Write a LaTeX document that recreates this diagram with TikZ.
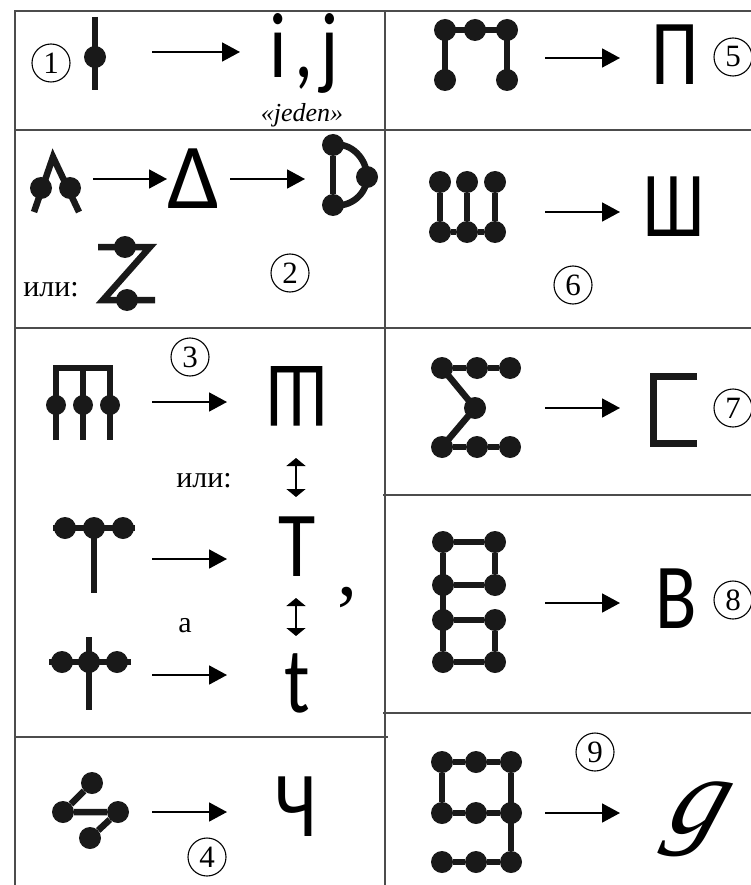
\documentclass[tikz,border=0pt]{standalone}
\usepackage{fontspec}
\setmainfont{Liberation Serif}
\newfontfamily\letterfont{Carlito}
\usetikzlibrary{arrows.meta, positioning}

\begin{document}
\begin{tikzpicture}[
    x=1pt, y=-1pt,
    grid/.style={draw=black!70, line width=1.4pt},
    bar/.style={line width=6.5pt, draw=black!90, line join=miter},
    dot/.style={circle, fill=black!90, minimum size=22pt, inner sep=0pt},
    arrow/.style={-{Triangle[length=18pt, width=19pt]}, line width=1.8pt},
    updown/.style={{Triangle[length=8pt, width=19pt]}-{Triangle[length=8pt, width=19pt]}, line width=1.8pt},
    letter/.style={font=\letterfont\fontsize{93}{93}\selectfont, inner sep=0pt, xscale=0.82, transform shape},
    num/.style={circle, draw, line width=1.1pt, minimum size=38pt, inner sep=0pt, font=\fontsize{31}{31}\selectfont},
    note/.style={font=\fontsize{30}{30}\selectfont, inner sep=0pt}
]
\useasboundingbox (0,0) rectangle (751,885);

% Table
\draw [grid] (15,885) -- (15,11) -- (751,11);
\draw [grid] (385,11) -- (385,885);
\foreach \y in {130,328,737} \draw [grid] (15,\y) -- (388,\y);
\foreach \y in {130,328,495,713} \draw [grid] (383,\y) -- (751,\y);

% Row 1
\node (n1) [num] at (51,63) {1};
\coordinate (s1top) at (95,17);
\coordinate (s1bot) at (95,90);
\draw [bar] (s1top) -- (s1bot);
\node (s1) [dot] at (95,57) {};
\coordinate (a1s) at (152,52);
\coordinate (a1e) at (240,52);
\draw [arrow] (a1s) -- (a1e);
\node (ij) [letter, anchor=base] at (304,78) {i\hspace{9pt},\hspace{9pt}j};
\node (jeden) [note, font=\itshape\fontsize{26}{26}\selectfont] at (302,115) {«jeden»};

% Row 2
\coordinate (lamL) at (34,212);
\coordinate (lamT) at (53,157);
\coordinate (lamR) at (79,212);
\draw [bar] (lamL) -- (lamT) -- (lamR);
\node (lam1) [dot] at (41,188) {};
\node (lam2) [dot] at (70,188) {};
\coordinate (a2s) at (93,179);
\coordinate (a2e) at (167,179);
\draw [arrow] (a2s) -- (a2e);
\node (delta) [letter, xscale=1.22] at (194,179) {Δ};
\coordinate (a3s) at (230,179);
\coordinate (a3e) at (305,179);
\draw [arrow] (a3s) -- (a3e);
\node (dT) [dot] at (333,145) {};
\node (dB) [dot] at (333,205) {};
\node (dR) [dot] at (367,177) {};
\draw [bar] (dT) -- (dB);
\draw [bar] (dT.center) to[out=10, in=90] (dR.center) to[out=-90, in=-10] (dB.center);
\node (ili1) [note, anchor=base] at (51,296) {или:};
\coordinate (zTL) at (98,247);
\coordinate (zTR) at (150,247);
\coordinate (zBL) at (103,300);
\coordinate (zBR) at (155,300);
\draw [bar] (zTL) -- (zTR) -- (zBL) -- (zBR);
\node (z1) [dot] at (125,247) {};
\node (z2) [dot] at (127,300) {};
\node (n2) [num] at (290,273) {2};

% Row 3
\node (n3) [num] at (190,357) {3};
\coordinate (m1b) at (56,440);
\coordinate (m1t) at (56,368);
\coordinate (m2b) at (83,440);
\coordinate (m2t) at (83,368);
\coordinate (m3b) at (110,440);
\coordinate (m3t) at (110,368);
\draw [bar] (m1b) -- (m1t) -- (m3t) -- (m3b);
\draw [bar] (m2t) -- (m2b);
\node (m1) [dot, minimum size=20pt] at (56,405) {};
\node (m2) [dot, minimum size=20pt] at (83,405) {};
\node (m3) [dot, minimum size=20pt] at (110,405) {};
\coordinate (a4s) at (152,402);
\coordinate (a4e) at (227,402);
\draw [arrow] (a4s) -- (a4e);
\node (shinv) [letter, xscale=0.92, rotate=180] at (297,396) {Ш};
\node (ili2) [note, anchor=base] at (204,487) {или:};
\coordinate (ud1t) at (296,458);
\coordinate (ud1b) at (296,497);
\draw [updown] (ud1t) -- (ud1b);

\coordinate (tL) at (53,528);
\coordinate (tR) at (135,528);
\coordinate (tS) at (94,593);
\draw [bar] (tL) -- (tR);
\node (t1) [dot] at (65,528) {};
\node (t2) [dot] at (94,528) {};
\node (t3) [dot] at (123,528) {};
\draw [bar] (t2.center) -- (tS);
\coordinate (a5s) at (152,559);
\coordinate (a5e) at (227,559);
\draw [arrow] (a5s) -- (a5e);
\node (bigT) [letter] at (297,547) {Т};
\node (comma) [anchor=base, inner sep=0pt, font=\fontsize{80}{80}\selectfont] at (347,595) {,};
\coordinate (ud2t) at (296,598);
\coordinate (ud2b) at (296,636);
\draw [updown] (ud2t) -- (ud2b);
\node (a) [note, anchor=base] at (185,632) {а};

\coordinate (xL) at (49,662);
\coordinate (xR) at (131,662);
\coordinate (xT) at (89,637);
\coordinate (xB) at (89,710);
\draw [bar] (xL) -- (xR);
\draw [bar] (xT) -- (xB);
\node (x1) [dot] at (62,662) {};
\node (x2) [dot] at (89,662) {};
\node (x3) [dot] at (117,662) {};
\coordinate (a6s) at (152,675);
\coordinate (a6e) at (227,675);
\draw [arrow] (a6s) -- (a6e);
\node (smallt) [letter, anchor=base] at (297,712) {t};

% Row 4
\node (c1) [dot] at (92,783) {};
\node (c2) [dot] at (63,812) {};
\node (c3) [dot] at (118,812) {};
\node (c4) [dot] at (90,838) {};
\draw [bar] (c1) -- (c2) -- (c3) -- (c4);
\coordinate (a7s) at (152,812);
\coordinate (a7e) at (227,812);
\draw [arrow] (a7s) -- (a7e);
\node (n4) [num] at (207,857) {4};
\node (che) [letter] at (296,807) {Ч};

% Row 5
\node (p1) [dot] at (445,30) {};
\node (p2) [dot] at (475,30) {};
\node (p3) [dot] at (507,30) {};
\node (p4) [dot] at (445,80) {};
\node (p5) [dot] at (507,80) {};
\draw [bar] (p4.center) -- (p1.center) -- (p3.center) -- (p5.center);
\coordinate (a8s) at (545,58);
\coordinate (a8e) at (620,58);
\draw [arrow] (a8s) -- (a8e);
\node (pe) [letter] at (675,55) {П};
\node (n5) [num] at (733,57) {5};

% Row 6
\node (w1) [dot] at (440,182) {};
\node (w2) [dot] at (467,182) {};
\node (w3) [dot] at (495,182) {};
\node (w4) [dot] at (440,232) {};
\node (w5) [dot] at (467,232) {};
\node (w6) [dot] at (495,232) {};
\draw [bar] (w1) -- (w4);
\draw [bar] (w2) -- (w5);
\draw [bar] (w3) -- (w6);
\draw [bar] (w4) -- (w5) -- (w6);
\coordinate (a9s) at (545,212);
\coordinate (a9e) at (620,212);
\draw [arrow] (a9s) -- (a9e);
\node (sha) [letter, xscale=0.92] at (674,207) {Ш};
\node (n6) [num] at (573,285) {6};

% Row 7
\node (e1) [dot] at (442,368) {};
\node (e2) [dot] at (477,368) {};
\node (e3) [dot] at (510,368) {};
\node (e4) [dot] at (475,408) {};
\node (e5) [dot] at (442,447) {};
\node (e6) [dot] at (477,447) {};
\node (e7) [dot] at (510,447) {};
\draw [bar] (e1) -- (e2) -- (e3);
\draw [bar] (e5) -- (e6) -- (e7);
\draw [bar] (e1.center) -- (e4.center) -- (e5.center);
\coordinate (a10s) at (545,408);
\coordinate (a10e) at (620,408);
\draw [arrow] (a10s) -- (a10e);
\draw [bar] (697,376.5) -- (653.5,376.5) -- (653.5,443.5) -- (697,443.5);
\node (n7) [num] at (733,408) {7};

% Row 8
\node (v1) [dot] at (443,542) {};
\node (v2) [dot] at (495,542) {};
\node (v3) [dot] at (443,585) {};
\node (v4) [dot] at (495,585) {};
\node (v5) [dot] at (443,620) {};
\node (v6) [dot] at (495,620) {};
\node (v7) [dot] at (443,662) {};
\node (v8) [dot] at (495,662) {};
\draw [bar] (v1) -- (v2);
\draw [bar] (v3) -- (v4);
\draw [bar] (v5) -- (v6);
\draw [bar] (v7) -- (v8);
\draw [bar] (v1) -- (v7);
\draw [bar] (v2) -- (v4);
\draw [bar] (v6) -- (v8);
\coordinate (a11s) at (545,603);
\coordinate (a11e) at (620,603);
\draw [arrow] (a11s) -- (a11e);
\node (ve) [letter] at (676,599) {В};
\node (n8) [num] at (733,600) {8};

% Row 9
\node (n9) [num] at (595,752) {9};
\node (g1) [dot] at (442,762) {};
\node (g2) [dot] at (476,762) {};
\node (g3) [dot] at (511,762) {};
\node (g4) [dot] at (442,813) {};
\node (g5) [dot] at (476,813) {};
\node (g6) [dot] at (511,813) {};
\node (g7) [dot] at (442,862) {};
\node (g8) [dot] at (476,862) {};
\node (g9) [dot] at (511,862) {};
\draw [bar] (g1) -- (g2) -- (g3);
\draw [bar] (g4) -- (g5) -- (g6);
\draw [bar] (g7) -- (g8) -- (g9);
\draw [bar] (g1) -- (g4);
\draw [bar] (g3) -- (g9);
\coordinate (a12s) at (545,813);
\coordinate (a12e) at (620,813);
\draw [arrow] (a12s) -- (a12e);
\node (gee) [anchor=base, inner sep=0pt, xslant=0.35, transform shape, font=\itshape\fontsize{110}{110}\selectfont] at (692,833) {g};

\end{tikzpicture}
\end{document}
